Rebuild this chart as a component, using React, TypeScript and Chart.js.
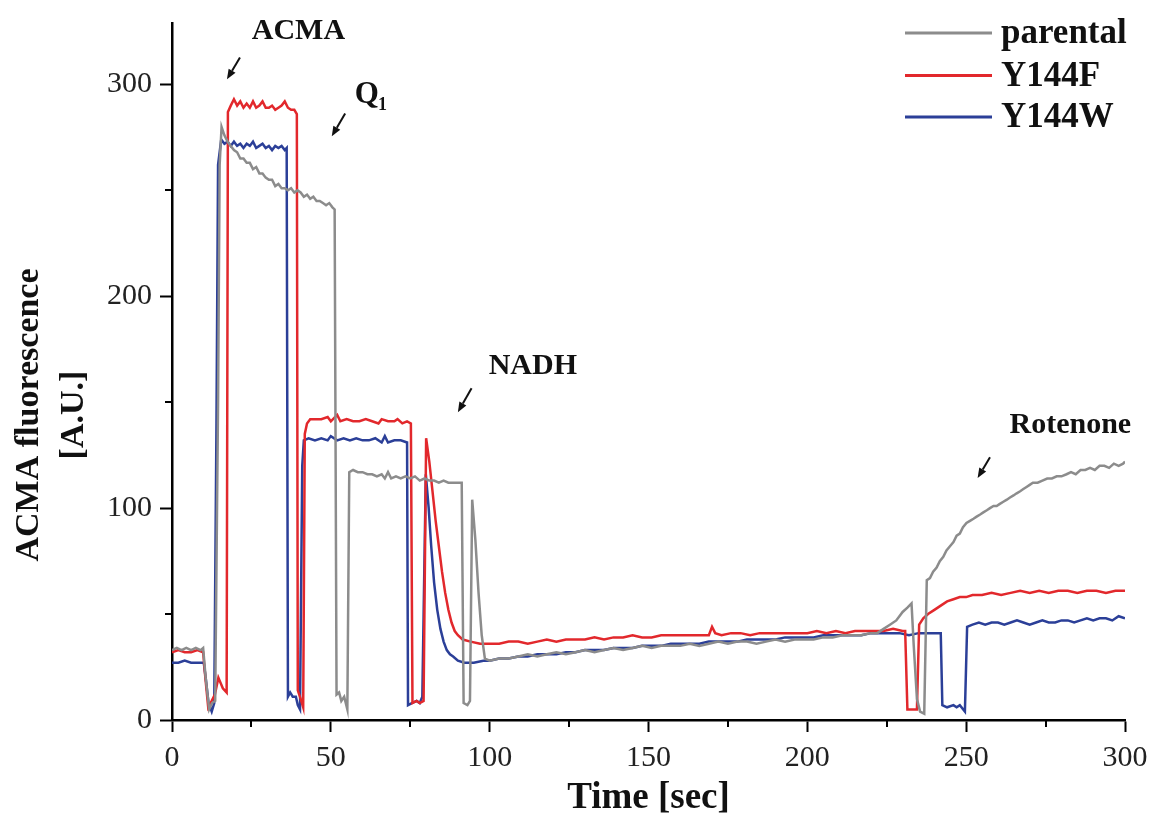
import { useEffect, useRef } from 'react';
import { Chart, registerables } from 'chart.js';

Chart.register(...registerables);

const FONT = '"Liberation Serif", "Times New Roman", Times, serif';

// ---- Series metadata ----
const seriesLabels = ['parental', 'Y144F', 'Y144W'];
const seriesColors = ['#8c8c8c', '#e2282c', '#2b3f98'];

// ---- Axis ticks ----
const xMajorTicks = [0, 50, 100, 150, 200, 250, 300];
const xMinorTicks = [25, 75, 125, 175, 225, 275];
const yMajorTicks = [0, 100, 200, 300];
const yMinorTicks = [50, 150, 250];

// ---- Data: [time (sec), ACMA fluorescence (A.U.)] ----
const parentalData: [number, number][] = [
  [0, 33], [1.5, 34], [3, 33], [4.5, 34], [6, 33], [7.5, 34], [9, 33], [9.8, 34], [10.6, 20], [11.7, 5],
  [12.6, 8], [13.6, 9], [14.5, 150], [15, 262], [15.6, 280], [16.5, 276], [17.5, 273], [18.5, 271], [19.5, 269],
  [20.5, 268], [21.5, 265], [22.5, 265], [23.5, 263], [24.5, 263], [25.5, 260], [26.5, 261], [27.5, 258],
  [28.5, 258], [29.5, 256], [30.5, 255], [31.5, 255], [32.5, 252], [33.5, 253], [34.5, 251], [35.5, 251],
  [36.5, 250], [37.5, 251], [38.5, 249], [39.5, 250], [40.5, 249], [41.5, 247], [42.5, 248], [43.5, 246],
  [44.5, 247], [45.5, 245], [46.5, 245], [47.5, 244], [48.5, 243], [49.5, 244], [50.5, 242], [51.2, 241],
  [51.8, 12], [52.6, 13], [53.3, 9], [54.2, 11], [55.2, 5], [55.8, 117], [57, 118], [58.5, 117], [60, 117],
  [61.5, 116], [63, 116], [64.5, 115], [66, 116], [67, 114], [68, 117], [69, 114], [70.5, 115], [72, 114],
  [73.5, 115], [75, 114], [76.5, 115], [78, 113], [79.5, 114], [81, 113], [82.5, 113], [84, 112], [85.5, 113],
  [87, 112], [88.5, 112], [90, 112], [91.2, 112], [91.8, 8], [93, 7], [93.8, 9], [94.5, 104], [95.5, 85],
  [96.5, 60], [97.5, 40], [98.5, 29], [100, 28], [103, 29], [106, 29], [109, 30], [112, 31], [115, 30],
  [118, 31], [121, 32], [124, 31], [127, 32], [130, 33], [133, 32], [136, 33], [139, 34], [142, 33], [145, 34],
  [148, 35], [151, 34], [154, 35], [157, 35], [160, 35], [163, 36], [166, 35], [169, 36], [172, 37], [175, 36],
  [178, 37], [181, 37], [184, 36], [187, 37], [190, 38], [193, 37], [196, 38], [199, 38], [202, 38], [205, 39],
  [208, 39], [211, 40], [214, 40], [217, 40], [220, 41], [222, 41], [224, 43], [226, 45], [228, 47], [230, 51],
  [231.5, 53], [232.8, 55], [233.5, 35], [234.5, 10], [235.5, 4], [236.8, 3], [237.6, 66], [238.6, 67],
  [239.6, 70], [240.7, 72], [241.7, 75], [242.8, 77], [243.8, 80], [244.9, 82], [246, 84], [247, 87], [248, 88],
  [249, 91], [250.1, 93], [251.2, 94], [252.3, 95], [253.3, 96], [254.4, 97], [255.4, 98], [256.5, 99],
  [257.5, 100], [258.6, 101], [259.6, 101], [260.6, 102], [261.7, 103], [262.8, 104], [263.8, 105],
  [264.9, 106], [265.9, 107], [267, 108], [268, 109], [269, 110], [270, 111], [271, 112], [272.5, 112],
  [274, 113], [275.5, 114], [277, 114], [278.5, 115], [280, 115], [281.6, 116], [283, 117], [284.5, 116],
  [286, 118], [287.5, 118], [289, 119], [290.5, 118], [292, 120], [293.5, 120], [295, 119], [296.5, 121],
  [298, 120], [299.4, 121], [300, 122],
];

const y144fData: [number, number][] = [
  [0, 32], [2, 33], [4, 32], [6, 32], [8, 33], [9.8, 32], [10.5, 20], [11.4, 6], [12.5, 9], [13.5, 12], [14.6, 20],
  [16, 15], [17.2, 13], [17.6, 287], [18.5, 290], [19.5, 293], [20.5, 290], [21.5, 292], [22.5, 289],
  [23.5, 291], [24.5, 289], [25.5, 292], [26.5, 289], [27.5, 290], [28.5, 292], [29.5, 289], [30.5, 289],
  [31.5, 290], [32.5, 288], [33.5, 289], [34.5, 290], [35.5, 292], [36.5, 289], [37.5, 288], [38.5, 288],
  [39.3, 286], [39.6, 14], [40.5, 10], [41.3, 6], [41.8, 135], [42.5, 140], [43.5, 142], [45, 142], [47, 142],
  [49, 143], [50, 141], [52, 144], [53, 141], [55, 142], [57, 141], [59, 141], [61, 142], [63, 141], [65, 140],
  [66, 142], [68, 141], [70, 141], [71, 142], [72.5, 140], [74, 141], [75.2, 140], [75.7, 8], [77, 9], [78, 8],
  [79.2, 9], [80, 133], [81, 122], [82, 108], [83, 94], [84, 82], [85, 70], [86, 60], [87, 52], [88, 46],
  [89, 42], [90, 40], [91.5, 38], [94, 37], [97, 36], [100, 36], [103, 36], [106, 37], [109, 37], [112, 36],
  [115, 37], [118, 38], [121, 37], [124, 38], [127, 38], [130, 38], [133, 39], [136, 38], [139, 39], [142, 39],
  [145, 40], [148, 39], [151, 39], [154, 40], [157, 40], [160, 40], [163, 40], [166, 40], [169, 40], [170, 44],
  [171, 41], [173, 40], [176, 41], [179, 41], [182, 40], [185, 41], [188, 41], [191, 41], [194, 41], [197, 41],
  [200, 41], [203, 42], [206, 41], [209, 42], [212, 41], [215, 42], [218, 42], [221, 42], [224, 42], [227, 43],
  [230, 42], [230.8, 42], [231.5, 5], [233, 5], [234.5, 5], [235.2, 45], [236.5, 48], [238, 50], [240, 52],
  [242, 54], [244, 56], [246, 57], [248, 58], [250, 58], [252, 59], [255, 59], [258, 60], [261, 59], [264, 60],
  [267, 61], [270, 60], [273, 61], [276, 60], [279, 61], [282, 61], [285, 60], [288, 61], [291, 61], [294, 60],
  [297, 61], [300, 61],
];

const y144wData: [number, number][] = [
  [0, 27], [2, 27], [4, 28], [6, 27], [8, 27], [10, 27], [10.6, 20], [11.5, 8], [12.5, 4], [13.3, 8], [14, 140],
  [14.5, 262], [15.5, 274], [16.5, 272], [17.5, 273], [18.5, 271], [19.5, 273], [20.5, 271], [21.5, 272],
  [22.5, 270], [23.5, 272], [24.5, 271], [25.5, 273], [26.5, 270], [27.5, 271], [28.5, 272], [29.5, 270],
  [30.5, 271], [31.5, 269], [32.5, 271], [33.5, 270], [34.5, 271], [35.5, 269], [36.1, 270], [36.5, 11],
  [37.2, 13], [38, 11], [39, 11], [39.6, 7], [40.3, 5], [41, 120], [41.5, 132], [43, 133], [45, 132], [47, 133],
  [49, 132], [50, 134], [52, 132], [54, 133], [56, 132], [58, 133], [60, 132], [62, 132], [64, 133], [66, 131],
  [67, 134], [68, 131], [70, 132], [72, 132], [74, 131], [74.3, 7], [75.5, 8], [77, 9], [78, 8], [78.8, 11],
  [79.9, 116], [80.8, 100], [81.6, 82], [82.5, 65], [83.5, 52], [84.5, 43], [85.5, 37], [86.5, 33], [87.5, 31],
  [88.5, 30], [90, 28], [92, 27], [95, 27], [98, 28], [100, 28], [103, 29], [106, 29], [109, 30], [112, 30],
  [115, 31], [118, 31], [121, 31], [124, 32], [127, 32], [130, 33], [133, 33], [136, 33], [139, 34], [142, 34],
  [145, 34], [148, 35], [151, 35], [154, 35], [157, 36], [160, 36], [163, 36], [166, 36], [169, 37], [172, 37],
  [175, 37], [178, 37], [181, 38], [184, 38], [187, 38], [190, 38], [193, 39], [196, 39], [199, 39], [202, 39],
  [205, 40], [208, 40], [211, 40], [214, 40], [217, 40], [220, 41], [223, 41], [226, 41], [229, 41], [232, 40],
  [235, 41], [238, 41], [240, 41], [242, 41], [242.5, 7], [244, 6], [246, 7], [247, 6], [248, 7], [249.6, 4],
  [250.3, 44], [252, 45], [254, 46], [256, 45], [258, 46], [260, 46], [262, 45], [264, 46], [266, 47], [268, 46],
  [270, 45], [272, 46], [274, 47], [276, 46], [278, 46], [280, 47], [282, 47], [284, 46], [286, 47], [288, 48],
  [290, 47], [292, 48], [294, 48], [296, 47], [298, 49], [300, 48],
];

// ---- Annotations (data coordinates) ----
const noteTexts = ['ACMA', 'Q', 'NADH', 'Rotenone'];
const noteSubs = ['', '1', '', ''];
const noteX = [39.8, 62.6, 113.6, 282.8];
const noteY = [325, 295, 167, 139];
const arrowFromX = [21.4, 54.5, 94.3, 257.5];
const arrowFromY = [312.7, 286.3, 156.6, 124];
const arrowToX = [17.3, 50.3, 90, 253.6];
const arrowToY = [302.4, 275.5, 145.3, 114.2];

const yTitleLines = ['ACMA fluorescence', '[A.U.]'];
const xTitle = 'Time [sec]';

const allSeries = [parentalData, y144fData, y144wData];

const decorPlugin = {
  id: 'decor',
  afterDraw(chart: any) {
    const { ctx } = chart;
    const xs = chart.scales.x;
    const ys = chart.scales.y;
    ctx.save();
    // minor ticks
    ctx.strokeStyle = '#000';
    ctx.lineWidth = 2;
    for (const v of xMinorTicks) {
      const px = Math.round(xs.getPixelForValue(v));
      ctx.beginPath();
      ctx.moveTo(px, ys.bottom);
      ctx.lineTo(px, ys.bottom + 7);
      ctx.stroke();
    }
    for (const v of yMinorTicks) {
      const py = Math.round(ys.getPixelForValue(v));
      ctx.beginPath();
      ctx.moveTo(xs.left, py);
      ctx.lineTo(xs.left - 7, py);
      ctx.stroke();
    }

    // y axis title (two lines, rotated)
    ctx.fillStyle = '#111';
    ctx.font = `bold 34px ${FONT}`;
    ctx.textAlign = 'center';
    ctx.textBaseline = 'middle';
    const titleCenters = [29, 74];
    yTitleLines.forEach((line, i) => {
      ctx.save();
      ctx.translate(titleCenters[i], 415);
      ctx.rotate(-Math.PI / 2);
      ctx.fillText(line, 0, 0);
      ctx.restore();
    });

    // annotations
    noteTexts.forEach((txt, i) => {
      const px = xs.getPixelForValue(noteX[i]);
      const py = ys.getPixelForValue(noteY[i]);
      ctx.font = `bold 30px ${FONT}`;
      ctx.fillStyle = '#111';
      ctx.textBaseline = 'middle';
      if (noteSubs[i]) {
        const w = ctx.measureText(txt).width;
        ctx.font = `bold 18px ${FONT}`;
        const ws = ctx.measureText(noteSubs[i]).width;
        const start = px - (w + ws) / 2;
        ctx.font = `bold 31px ${FONT}`;
        ctx.textAlign = 'left';
        ctx.fillText(txt, start, py);
        ctx.font = `bold 18px ${FONT}`;
        ctx.fillText(noteSubs[i], start + w, py + 10);
      } else {
        ctx.textAlign = 'center';
        ctx.fillText(txt, px, py);
      }
      // arrow
      const x1 = xs.getPixelForValue(arrowFromX[i]);
      const y1 = ys.getPixelForValue(arrowFromY[i]);
      const x2 = xs.getPixelForValue(arrowToX[i]);
      const y2 = ys.getPixelForValue(arrowToY[i]);
      const ang = Math.atan2(y2 - y1, x2 - x1);
      const head = 10;
      const hx = x2 - head * Math.cos(ang);
      const hy = y2 - head * Math.sin(ang);
      ctx.strokeStyle = '#111';
      ctx.lineWidth = 2;
      ctx.beginPath();
      ctx.moveTo(x1, y1);
      ctx.lineTo(hx, hy);
      ctx.stroke();
      ctx.beginPath();
      ctx.moveTo(x2, y2);
      ctx.lineTo(hx + 4 * Math.sin(ang), hy - 4 * Math.cos(ang));
      ctx.lineTo(hx - 4 * Math.sin(ang), hy + 4 * Math.cos(ang));
      ctx.closePath();
      ctx.fillStyle = '#111';
      ctx.fill();
    });

    // legend
    const legendY = [33, 75.5, 117];
    chart.data.datasets.forEach((ds: any, i: number) => {
      ctx.strokeStyle = ds.borderColor;
      ctx.lineWidth = 3;
      ctx.beginPath();
      ctx.moveTo(905, legendY[i]);
      ctx.lineTo(992, legendY[i]);
      ctx.stroke();
      ctx.fillStyle = '#111';
      ctx.font = `bold 35px ${FONT}`;
      ctx.textAlign = 'left';
      ctx.textBaseline = 'middle';
      ctx.fillText(ds.label, 1001, legendY[i] + 1);
    });
    ctx.restore();
  },
};

export default function App() {
  const canvasRef = useRef<HTMLCanvasElement | null>(null);

  useEffect(() => {
    if (!canvasRef.current) return;
    const chart = new Chart(canvasRef.current, {
      type: 'line',
      data: {
        datasets: allSeries.map((series, i) => ({
          label: seriesLabels[i],
          data: series.map(([t, v]) => ({ x: t, y: v })),
          borderColor: seriesColors[i],
          backgroundColor: seriesColors[i],
          borderWidth: 2.5,
          pointRadius: 0,
          tension: 0,
          fill: false,
        })),
      },
      options: {
        animation: false,
        responsive: false,
        devicePixelRatio: 1,
        layout: { padding: { top: 23, right: 27, left: 0, bottom: 0 } },
        plugins: {
          legend: { display: false },
          tooltip: { enabled: false },
        },
        scales: {
          x: {
            type: 'linear',
            min: 0,
            max: 300,
            afterFit: (scale: any) => {
              scale.height = 103;
              scale.paddingLeft = 0;
              scale.paddingRight = 0;
            },
            afterBuildTicks: (scale: any) => {
              scale.ticks = xMajorTicks.map((v) => ({ value: v }));
            },
            ticks: {
              stepSize: 50,
              padding: 8,
              color: '#222',
              font: { family: FONT, size: 30 },
              maxRotation: 0,
            },
            grid: {
              drawOnChartArea: false,
              drawTicks: true,
              tickLength: 12,
              tickWidth: 2,
              tickColor: '#000',
            },
            border: { display: true, color: '#000', width: 2.5 },
            title: {
              display: true,
              text: xTitle,
              color: '#111',
              font: { family: FONT, size: 37, weight: 'bold', lineHeight: 1.2 },
              padding: { top: 0, bottom: 2 },
            },
          },
          y: {
            type: 'linear',
            min: 0,
            max: 329,
            afterFit: (scale: any) => {
              scale.width = 172;
              scale.paddingTop = 0;
              scale.paddingBottom = 0;
            },
            afterBuildTicks: (scale: any) => {
              scale.ticks = yMajorTicks.map((v) => ({ value: v }));
            },
            ticks: {
              stepSize: 100,
              padding: 8,
              color: '#222',
              font: { family: FONT, size: 30 },
            },
            grid: {
              drawOnChartArea: false,
              drawTicks: true,
              tickLength: 12,
              tickWidth: 2,
              tickColor: '#000',
            },
            border: { display: true, color: '#000', width: 2.5 },
          },
        },
      },
      plugins: [decorPlugin],
    });
    return () => chart.destroy();
  }, []);

  return (
    <div style={{ position: 'fixed', left: 0, top: 0, width: 1152, height: 823, background: '#fff' }}>
      <canvas ref={canvasRef} width={1152} height={823} style={{ width: 1152, height: 823 }} />
    </div>
  );
}
